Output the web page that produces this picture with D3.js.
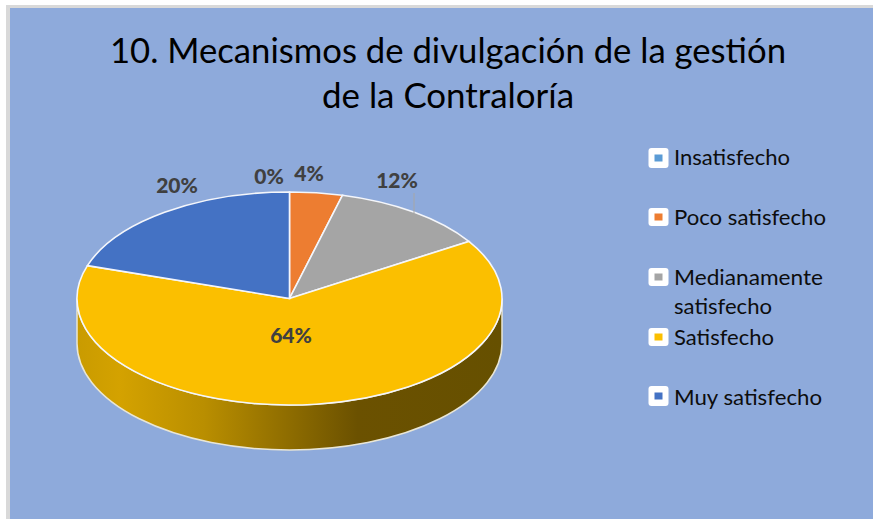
<!DOCTYPE html>
<html><head><meta charset="utf-8">
<script src="https://cdn.jsdelivr.net/npm/d3@7"></script>
<style>html,body{margin:0;padding:0;background:#fff}svg{display:block}text{font-family:Lato,"Noto Sans",sans-serif}</style>
</head><body><svg id="c" width="873" height="519"></svg>
<script>
const categories = ["Insatisfecho","Poco satisfecho","Medianamente satisfecho","Satisfecho","Muy satisfecho"];
const values = [0,4,12,64,20];
const colors = ["#5b9bd5","#ed7d31","#a5a5a5","#fbbf00","#4472c4"];
const legendLines = [["Insatisfecho"],["Poco satisfecho"],["Medianamente","satisfecho"],["Satisfecho"],["Muy satisfecho"]];
const titleLines = ["10. Mecanismos de divulgación de la gestión","de la Contraloría"];

const svg = d3.select("#c");
svg.append("rect").attr("x",6).attr("y",5).attr("width",867).attr("height",514).attr("fill","#d9d9d9");
svg.append("rect").attr("x",10).attr("y",8).attr("width",863).attr("height",511).attr("fill","#8eaadb");

// title
const titleW = [676,252], titleY = [63,108];
titleLines.forEach((t,i)=>svg.append("text").text(t).attr("x",448).attr("y",titleY[i])
  .attr("text-anchor","middle").attr("font-size",35).attr("fill","#000")
  .attr("textLength",titleW[i]).attr("lengthAdjust","spacingAndGlyphs"));

// pie geometry
const cx=289.5, cy=298.5, rx=212.5, ry=106.5, depth=45;
const defs = svg.append("defs");
const grad = defs.append("linearGradient").attr("id","side").attr("gradientUnits","userSpaceOnUse")
  .attr("x1",cx-rx).attr("x2",cx+rx).attr("y1",0).attr("y2",0);
[[0,"#c99b00"],[0.1,"#d4a200"],[0.3,"#b98e00"],[0.66,"#6b5100"],[1,"#665000"]]
  .forEach(s=>grad.append("stop").attr("offset",s[0]).attr("stop-color",s[1]));

// front wall
svg.append("path")
  .attr("d",`M${cx-rx},${cy} A${rx},${ry} 0 0 0 ${cx+rx},${cy} L${cx+rx},${cy+depth} A${rx},${ry} 0 0 1 ${cx-rx},${cy+depth} Z`)
  .attr("fill","url(#side)").attr("stroke","#e9e6d6").attr("stroke-width",1.5);

// top face
const pie = d3.pie().sort(null).value(d=>d)(values);
const arc = d3.arc().innerRadius(0).outerRadius(1);
const face = svg.append("g").attr("transform",`translate(${cx},${cy}) scale(${rx},${ry})`);
face.selectAll("path").data(pie).join("path").attr("d",arc)
  .attr("fill",(d,i)=>colors[i]).attr("stroke","#f4f6fb").attr("stroke-width",1.6)
  .attr("vector-effect","non-scaling-stroke");

// leader line
svg.append("line").attr("x1",414).attr("x2",414).attr("y1",193).attr("y2",213).attr("stroke","#a6a6a6").attr("stroke-width",1);

// data labels
const labelX=[269,309,397,291,177], labelY=[184,181,188,343,193];
svg.selectAll("text.lab").data(values).join("text").attr("class","lab")
  .text(d=>d+"%").attr("x",(d,i)=>labelX[i]).attr("y",(d,i)=>labelY[i])
  .attr("text-anchor","middle").attr("font-size",21).attr("font-weight",900).attr("fill","#404040");

// legend
const markTop=[148,208,268,328,386], markH=[20,18,18,18,20], lineY=[[165],[225],[285,314],[345],[405]];
const lineW=[[116],[152],[149,98],[100],[148]];
categories.forEach((c,i)=>{
  svg.append("rect").attr("x",648.5).attr("y",markTop[i]).attr("width",20).attr("height",markH[i]).attr("rx",3).attr("fill","#fff");
  svg.append("rect").attr("x",654.5).attr("y",markTop[i]+markH[i]/2-3.5).attr("width",8).attr("height",7).attr("fill",colors[i]);
  legendLines[i].forEach((t,j)=>svg.append("text").text(t).attr("x",674).attr("y",lineY[i][j])
    .attr("font-size",21).attr("fill","#0d0d0d").attr("textLength",lineW[i][j]).attr("lengthAdjust","spacingAndGlyphs"));
});
</script></body></html>
